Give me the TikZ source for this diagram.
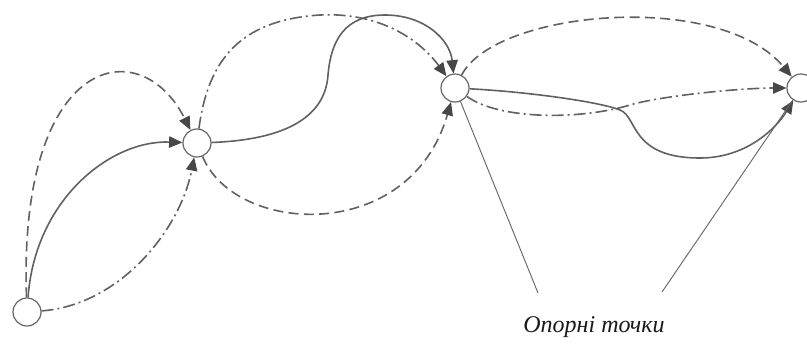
\documentclass[tikz,border=0pt]{standalone}
\usepackage{fontspec}
\setmainfont{Liberation Serif}
\usetikzlibrary{arrows.meta}
\begin{document}
\begin{tikzpicture}[x=0.75pt,y=-0.75pt,
  pt/.style={circle,draw=black!60,line width=0.9pt,fill=white,minimum size=21pt,inner sep=0pt},
  conn/.style={draw=black!62,line width=1.2pt,-{Triangle[length=10pt,width=8.5pt,color=black!72]}},
  solidline/.style={conn},
  dashline/.style={conn,dash pattern=on 7.5pt off 4pt},
  dotdash/.style={conn,dash pattern=on 9pt off 3pt on 1.5pt off 3pt},
  pointer/.style={draw=black!60,line width=0.7pt},
  lbl/.style={font=\itshape\fontsize{18}{20}\selectfont,text=black!90}]
\useasboundingbox (0,0) rectangle (807,347);

\node[pt] (A) at (27,312) {};
\node[pt] (B) at (197,143) {};
\node[pt] (C) at (455,88) {};
\node[pt] (D) at (801,88) {};

\coordinate (L1) at (538,293);
\coordinate (L2) at (662,292);
\node[lbl] (T) at (594,327) {Опорні точки};

% A -> B
\draw[solidline] (A) .. controls (35,200) and (110,140) .. (B);
\draw[dashline] (A) .. controls (18,55) and (140,30) .. (B);
\draw[dotdash] (A) .. controls (120,305) and (180,230) .. (B);

% B -> C
\draw[solidline] (B) .. controls (280,140) and (325,120) .. (328,75)
  .. controls (331,40) and (345,15) .. (385,15)
  .. controls (425,15) and (450,40) .. (C);
\draw[dotdash] (B) .. controls (208,60) and (240,20) .. (320,15)
  .. controls (380,12) and (420,40) .. (C);
\draw[dashline] (B) .. controls (235,235) and (410,245) .. (C);

% C -> D
\draw[dashline] (C) .. controls (495,10) and (720,-10) .. (D);
\draw[solidline] (C) .. controls (530,92) and (600,102) .. (620,110)
  .. controls (638,117) and (630,158) .. (700,158)
  .. controls (745,158) and (775,130) .. (D);
\draw[dotdash] (C) .. controls (500,120) and (580,120) .. (630,105)
  .. controls (660,96) and (740,88) .. (D);

% pointers
\draw[pointer] (C) -- (L1);
\draw[pointer] (D) -- (L2);
\end{tikzpicture}
\end{document}
